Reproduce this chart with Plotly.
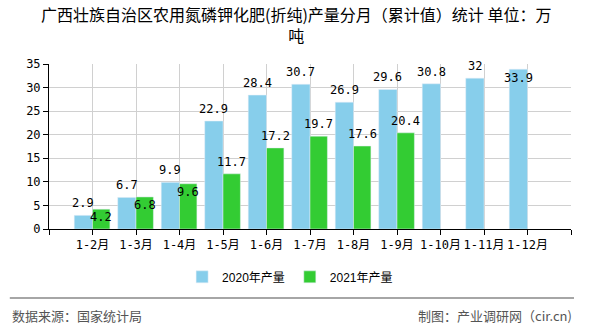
import plotly.graph_objects as go

categories = ["1-2月", "1-3月", "1-4月", "1-5月", "1-6月", "1-7月", "1-8月", "1-9月", "1-10月", "1-11月", "1-12月"]
values_2020 = [2.9, 6.7, 9.9, 22.9, 28.4, 30.7, 26.9, 29.6, 30.8, 32, 33.9]
values_2021 = [4.2, 6.8, 9.6, 11.7, 17.2, 19.7, 17.6, 20.4]
series_names = ["2020年产量", "2021年产量"]
colors = ["#87CEEB", "#33CC33"]
y_ticks = [0, 5, 10, 15, 20, 25, 30, 35]
title_text = "广西壮族自治区农用氮磷钾化肥(折纯)产量分月（累计值）统计 单位：万<br>吨"

idx = list(range(len(categories)))
label_font = dict(family="DejaVu Sans Mono, Noto Sans CJK SC", size=12, color="#000")
cjk_font = "Noto Sans CJK SC, Liberation Sans"

fig = go.Figure()
fig.add_trace(go.Bar(x=idx, y=values_2020, name=series_names[0], marker_color=colors[0],
                     offset=-0.42, width=0.42, hoverinfo="y"))
fig.add_trace(go.Bar(x=idx[:len(values_2021)], y=values_2021, name=series_names[1],
                     marker_color=colors[1], offset=0.0, width=0.40, hoverinfo="y"))

def fmt(v):
    return ("%g" % v)

annotations = []
for i, v in enumerate(values_2020):
    inside = v > 33
    annotations.append(dict(x=i - 0.21, y=v, xref="x", yref="y", text=fmt(v), showarrow=False,
                            font=label_font, yanchor="middle",
                            yshift=-9 if inside else 12))
for i, v in enumerate(values_2021):
    inside = v < 10
    annotations.append(dict(x=i + 0.2, y=v, xref="x", yref="y", text=fmt(v), showarrow=False,
                            font=label_font, yanchor="middle",
                            yshift=-8 if inside else 12))

annotations.append(dict(x=0.474, y=1.24, xref="paper", yref="paper", xanchor="center", yanchor="middle",
                        text=title_text, showarrow=False,
                        font=dict(family=cjk_font, size=16, color="#000")))

annotations.append(dict(x=-0.0751, y=-0.527, xref="paper", yref="paper", xanchor="left", yanchor="middle",
                        text="数据来源：国家统计局", showarrow=False,
                        font=dict(family=cjk_font, size=13, color="#555")))
annotations.append(dict(x=1.0058, y=-0.527, xref="paper", yref="paper", xanchor="right", yanchor="middle",
                        text="制图：产业调研网（cir.cn)", showarrow=False,
                        font=dict(family=cjk_font, size=13, color="#555")))

fig.update_layout(
    width=590, height=330,
    margin=dict(l=49, r=19, t=64, b=101),
    paper_bgcolor="white", plot_bgcolor="white",
    barmode="overlay",
    xaxis=dict(range=[-1, len(categories)], tickvals=[-1] + idx + [len(categories)],
               ticktext=[""] + categories + [""],
               showgrid=True, gridcolor="#d0d0d0", gridwidth=1,
               showline=True, linecolor="#000", linewidth=1,
               ticks="outside", ticklen=5, tickcolor="#000",
               tickfont=dict(family="DejaVu Sans Mono, Noto Sans CJK SC", size=12, color="#000"),
               zeroline=False, fixedrange=True),
    yaxis=dict(range=[0, 35], tickvals=y_ticks,
               showgrid=True, gridcolor="#d0d0d0", gridwidth=1,
               showline=True, linecolor="#000", linewidth=1,
               ticks="outside", ticklen=5, tickcolor="#000",
               tickfont=dict(family="DejaVu Sans Mono, Noto Sans CJK SC", size=12, color="#000"),
               zeroline=False, fixedrange=True),
    showlegend=True,
    legend=dict(orientation="h", x=0.255, xanchor="left", y=-0.29, yanchor="middle",
                font=dict(family="Liberation Sans, Noto Sans CJK SC", size=12, color="#000"),
                itemwidth=30, traceorder="normal"),
    annotations=annotations,
    shapes=[dict(type="line", xref="paper", yref="paper", x0=-0.0751, x1=1.0058, y0=-0.418, y1=-0.418,
                 line=dict(color="#888", width=1.5))],
)

fig.write_html("out.html")
